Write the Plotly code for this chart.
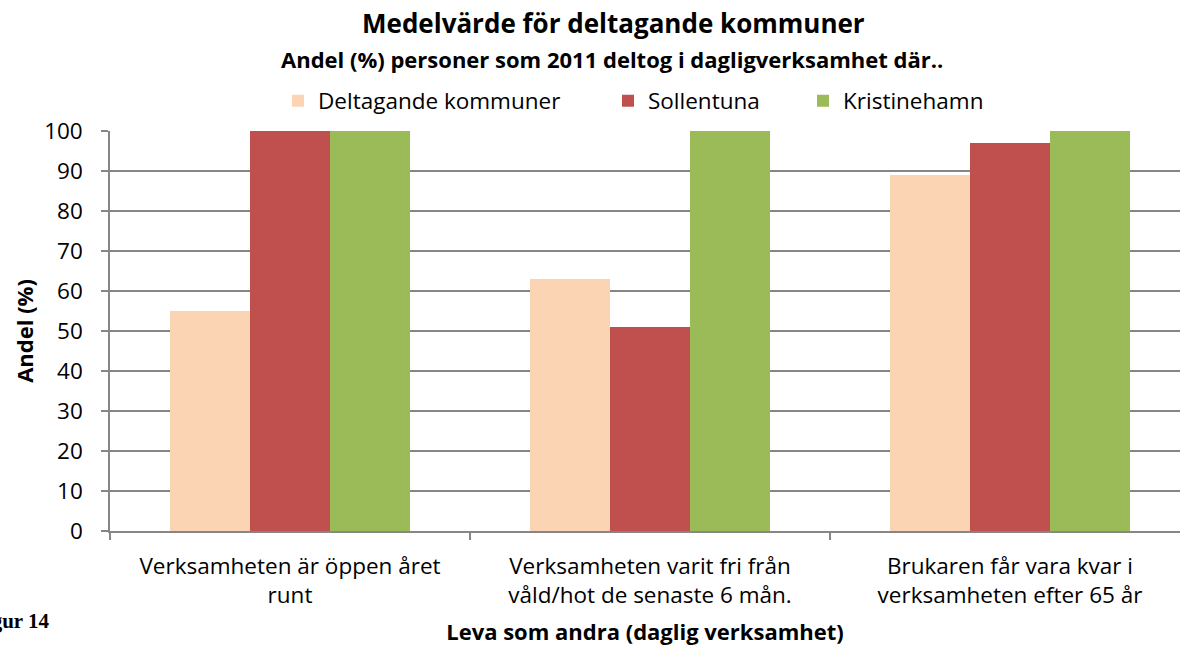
import plotly.graph_objects as go

categories = ["Verksamheten är öppen året<br>runt",
              "Verksamheten varit fri från<br>våld/hot de senaste 6 mån.",
              "Brukaren får vara kvar i<br>verksamheten efter 65 år"]
series_names = ["Deltagande kommuner", "Sollentuna", "Kristinehamn"]
deltagande = [55, 63, 89]
sollentuna = [100, 51, 97]
kristinehamn = [100, 100, 100]
colors = ["#FBD4B4", "#C0504D", "#9BBB59"]
y_ticks = [0, 10, 20, 30, 40, 50, 60, 70, 80, 90, 100]

FONT = "Open Sans"
W, H = 1180, 649
L, R, T, B = 110, 0, 131, 118
plot_w = W - L - R
plot_h = H - T - B
cat_px = 360.0

def px_x(p):
    return (p - L) / plot_w

def px_y(p):
    return (H - B - p) / plot_h

legend_ids = ["legend", "legend2", "legend3"]
legend_sq_x = [308, 638, 833]

fig = go.Figure()
for name, vals, c, lid in zip(series_names, [deltagande, sollentuna, kristinehamn], colors, legend_ids):
    fig.add_trace(go.Bar(x=categories, y=vals, name=name, legend=lid,
                         marker=dict(color=c, line=dict(width=0))))

legend_common = dict(orientation="h", yanchor="middle", xanchor="left", y=px_y(101),
                     font=dict(size=22.5), itemwidth=30, bgcolor="rgba(0,0,0,0)", borderwidth=0)

fig.update_layout(
    width=W, height=H,
    margin=dict(l=L, r=R, t=T, b=B, autoexpand=False),
    paper_bgcolor="white", plot_bgcolor="white",
    barmode="group", bargap=1/3, bargroupgap=0,
    font=dict(family=FONT, color="black", size=22),
    showlegend=True,
    legend=dict(legend_common, x=px_x(legend_sq_x[0] - 30)),
    legend2=dict(legend_common, x=px_x(legend_sq_x[1] - 30)),
    legend3=dict(legend_common, x=px_x(legend_sq_x[2] - 30)),
    xaxis=dict(type="category", range=[-0.5, -0.5 + plot_w / cat_px],
               showline=True, linecolor="#868686", linewidth=1.5,
               ticks="outside", tickson="boundaries", ticklen=7, tickcolor="#868686", tickwidth=1.5,
               tickfont=dict(size=22.5), showgrid=False, ticklabelstandoff=14,
               title=dict(text="<b>Leva som andra (daglig verksamhet)</b>", font=dict(size=22), standoff=16)),
    yaxis=dict(range=[0, 100], tickvals=y_ticks, showgrid=True, gridcolor="#868686", gridwidth=1.5,
               showline=True, linecolor="#868686", linewidth=1.5,
               ticks="outside", ticklen=7, tickcolor="#868686", tickwidth=1.5,
               tickfont=dict(size=22.5), zeroline=False, ticklabelstandoff=14,
               title=dict(text="<b>Andel (%)</b>", font=dict(size=22), standoff=4)),
)

fig.add_annotation(text="<b>Medelvärde för deltagande kommuner</b>", xref="paper", yref="paper",
                   x=px_x(613), y=px_y(23), xanchor="center", yanchor="middle",
                   showarrow=False, font=dict(size=26, family=FONT))
fig.add_annotation(text="<b>Andel (%) personer som 2011 deltog i dagligverksamhet där..</b>", xref="paper", yref="paper",
                   x=px_x(612), y=px_y(59), xanchor="center", yanchor="middle",
                   showarrow=False, font=dict(size=22, family=FONT))
fig.add_annotation(text="<b>Figur 14</b>", xref="paper", yref="paper",
                   x=px_x(52), y=px_y(621), xanchor="right", yanchor="middle",
                   showarrow=False, font=dict(size=21, family="Liberation Serif"))

fig.write_html("out.html", post_script="document.body.style.margin='0';",
               config={"displayModeBar": False})
